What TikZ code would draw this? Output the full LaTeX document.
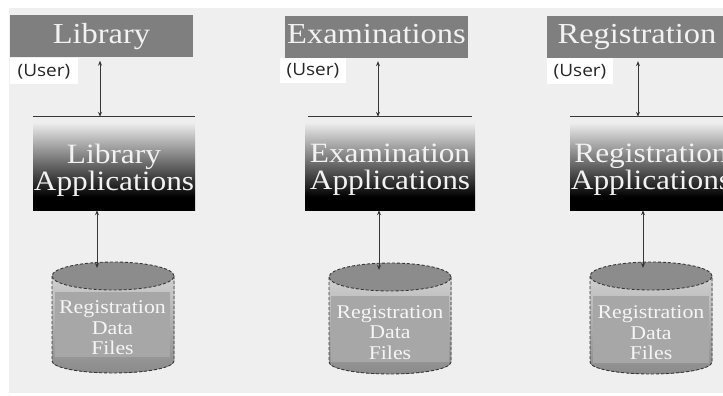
\documentclass[tikz,border=0pt]{standalone}
\usepackage{fontspec}
\newfontfamily\srf[FakeStretch=1.12]{Liberation Serif}
\newfontfamily\usr[FakeStretch=1.12]{Open Sans}
\usetikzlibrary{arrows.meta}
\definecolor{bg}{HTML}{EFEFEF}
\definecolor{topbox}{HTML}{7F7F7F}
\definecolor{toptext}{HTML}{F2F2F2}
\definecolor{shtop}{HTML}{EEEEEE}
\definecolor{cyltop}{HTML}{8C8C8C}
\definecolor{cylhi}{HTML}{D0D0D0}
\definecolor{cyllo}{HTML}{8A8A8A}
\definecolor{cylin}{HTML}{A7A7A7}
\definecolor{edge}{HTML}{363636}
\pgfdeclareverticalshading{appshade}{100bp}{color(0bp)=(black); color(32bp)=(black); color(72bp)=(shtop); color(100bp)=(shtop)}
\tikzset{
  topnode/.style={fill=topbox, inner sep=0pt, minimum height=42pt, text height=20pt, text depth=6pt,
    text=toptext, font=\srf\fontsize{29}{29}\selectfont},
  usernode/.style={fill=white, inner sep=0pt, minimum height=26pt, text=black!85,
    font=\usr\fontsize{17}{17}\selectfont},
  appnode/.style={shading=appshade, inner sep=0pt, minimum height=93pt},
  apptext/.style={inner sep=0pt, align=center, text=toptext, font=\srf\fontsize{28}{27}\selectfont},
  topline/.style={draw=edge, line width=1.3pt},
  biarrow/.style={draw=edge, line width=0.9pt, <->, >={Stealth[length=5pt,width=4pt]}},
  cyledge/.style={draw=edge, line width=0.9pt, densely dashed},
  dbrect/.style={fill=cylin, inner sep=0pt},
  dbtext/.style={inner sep=0pt, align=center, text=white!96!black,
    font=\srf\fontsize{19.5}{20.5}\selectfont},
}
\begin{document}
\begin{tikzpicture}[x=1pt,y=-1pt]
\useasboundingbox (0,0) rectangle (723,396);
\clip (0,0) rectangle (723,396);
\fill[white] (0,0) rectangle (723,396);
\fill[bg] (9,8) rectangle (723,393);

% top boxes
\node[topnode, minimum width=183pt] (lib) at (101.5,36.5) {Library};
\node[topnode, minimum width=183pt] (exm) at (376.5,37) {Examinations};
\node[topnode, minimum width=180pt] (reg) at (637,37) {Registration};

% user labels
\node[usernode, minimum width=68pt] (u1) at (44,71.5) {(User)};
\node[usernode, minimum width=66pt, minimum height=25pt] (u2) at (313,70.5) {(User)};
\node[usernode, minimum width=66pt] (u3) at (580,71.5) {(User)};

% application boxes
\node[appnode, minimum width=162pt] (libapp) at (114,163.5) {};
\node[appnode, minimum width=170pt] (exmapp) at (390,163.5) {};
\node[appnode, minimum width=170pt] (regapp) at (655,163.5) {};
\node[apptext] (libappt) at (114,170) {Library\\Applications};
\node[apptext] (exmappt) at (390,170) {Examination\\Applications};
\node[apptext] (regappt) at (651,170) {Registration\\Applications};
\draw[topline] (libapp.north west) -- (libapp.north east);
\draw[topline] ([xshift=3pt]exmapp.north west) -- ([xshift=-3pt]exmapp.north east);
\draw[topline] (regapp.north west) -- (regapp.north east);

% arrows user box -> application
\coordinate (t1) at (100,0);
\coordinate (t2) at (378,0);
\coordinate (t3) at (638,0);
\draw[biarrow, shorten <=3pt] (lib.south -| t1) -- (libapp.north -| t1);
\draw[biarrow, shorten <=3pt] (exm.south -| t2) -- (exmapp.north -| t2);
\draw[biarrow, shorten <=3pt] (reg.south -| t3) -- (regapp.north -| t3);

% cylinders
\foreach \n/\cx/\ty/\by/\ix/\iy/\iw/\ih in {libdb/113/276/361/112.5/324.5/115/65,
    exmdb/390/277/362/390/329/118/66, regdb/651/276/362/651/329.5/116/67}{
  \fill[top color=cylhi, bottom color=cyllo] (\cx-61,\ty) -- (\cx-61,\by)
     arc[start angle=180, end angle=360, x radius=61pt, y radius=12pt] -- (\cx+61,\ty) -- cycle;
  \node[dbrect, minimum width=\iw pt, minimum height=\ih pt] (\n) at (\ix,\iy) {};
  \node[dbtext] (\n t) at (\ix,\iy+3.5) {Registration\\Data\\Files};
  \draw[cyledge] (\cx-61,\ty) -- (\cx-61,\by)
     arc[start angle=180, end angle=360, x radius=61pt, y radius=12pt] -- (\cx+61,\ty);
  \draw[cyledge, fill=cyltop] (\cx,\ty) ellipse[x radius=61pt, y radius=14pt];
}

% arrows application -> data store
\coordinate (d1) at (97,268);
\coordinate (d2) at (379,270);
\coordinate (d3) at (643,268);
\draw[biarrow] (libapp.south -| d1) -- (d1);
\draw[biarrow] (exmapp.south -| d2) -- (d2);
\draw[biarrow] (regapp.south -| d3) -- (d3);
\end{tikzpicture}
\end{document}
